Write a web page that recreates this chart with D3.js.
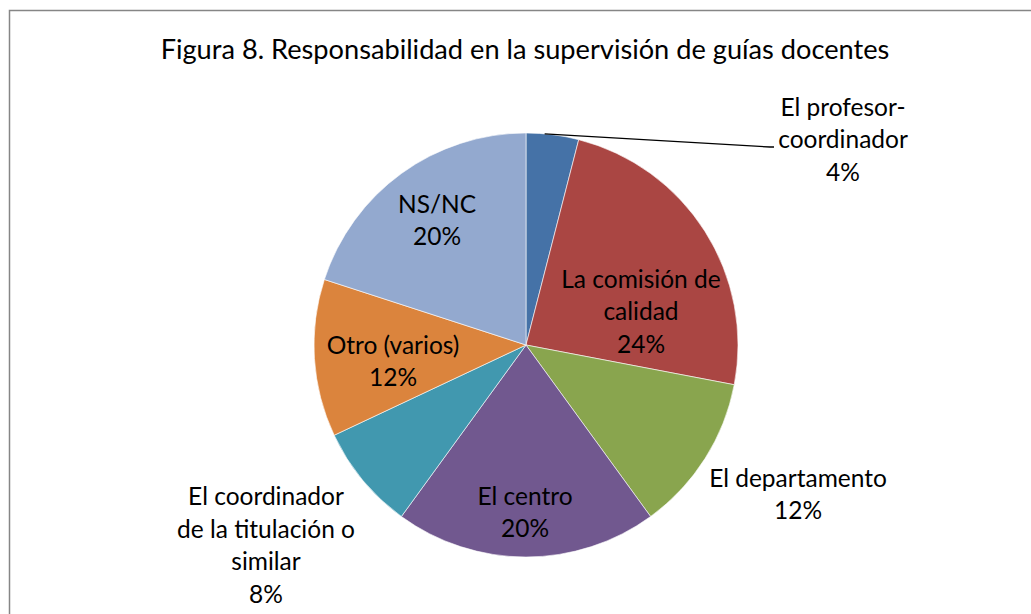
<!DOCTYPE html>
<html>
<head>
<meta charset="utf-8">
<script src="https://cdn.jsdelivr.net/npm/d3@7"></script>
<style>
  html, body { margin: 0; padding: 0; background: #fff; }
  text { font-family: Lato, "Open Sans", sans-serif; fill: #000; }
</style>
</head>
<body>
<div id="main"></div>
<script>
const title = "Figura 8. Responsabilidad en la supervisión de guías docentes";
const categories = [
  ["El profesor-", "coordinador"],
  ["La comisión de", "calidad"],
  ["El departamento"],
  ["El centro"],
  ["El coordinador", "de la titulación o", "similar"],
  ["Otro (varios)"],
  ["NS/NC"]
];
const values = [4, 24, 12, 20, 8, 12, 20];
const colors = ["#4572A7", "#AA4643", "#89A54E", "#71588F", "#4198AF", "#DB843D", "#93A9CF"];

// label placement (center of the text block, relative to pie center)
const labelPos = [
  [317, -205], [115, -33], [272, 150], [-1, 168], [-260, 201], [-133, 17], [-89, -124]
];

const svgWidth = 1031, svgHeight = 614;
const cx = 526, cy = 345, radius = 212;
const lineH = 32.5;

const svg = d3.select("#main")
              .append("svg")
              .attr("width", svgWidth)
              .attr("height", svgHeight);

svg.append("rect")
   .attr("x", 9.5).attr("y", 10.5)
   .attr("width", svgWidth).attr("height", svgHeight)
   .attr("fill", "#fff")
   .attr("stroke", "#868686")
   .attr("stroke-width", 1.5);

svg.append("text")
   .attr("x", 525).attr("y", 59)
   .attr("text-anchor", "middle")
   .style("font-size", "27.2px")
   .text(title);

const pie = d3.pie().sort(null).value(d => d);
const arc = d3.arc().innerRadius(0).outerRadius(radius);
const arcs = pie(values);

const g = svg.append("g").attr("transform", "translate(" + cx + "," + cy + ")");

g.selectAll(".slice")
 .data(arcs)
 .enter()
 .append("path")
 .attr("class", "slice")
 .attr("d", arc)
 .attr("fill", (d, i) => colors[i])
 .attr("stroke", "#fff")
 .attr("stroke-width", 0.6);

// leader line for the small slice
const a0 = arcs[0];
const ang = a0.startAngle + (a0.endAngle - a0.startAngle) * 0.35;
const p0 = [Math.sin(ang) * radius, -Math.cos(ang) * radius];
g.append("polyline")
 .attr("points", [p0, [244, -198], [248, -198]].map(p => p.join(",")).join(" "))
 .attr("fill", "none")
 .attr("stroke", "#000")
 .attr("stroke-width", 1.3);

arcs.forEach((d, i) => {
  const lines = categories[i].concat([values[i] + "%"]);
  const [lx, ly] = labelPos[i];
  const t = g.append("text")
             .attr("text-anchor", "middle")
             .style("font-size", "24.5px");
  const top = ly - (lines.length - 1) * lineH / 2;
  lines.forEach((s, k) => {
    t.append("tspan")
     .attr("x", lx)
     .attr("y", top + k * lineH + 8)
     .text(s);
  });
});
</script>
</body>
</html>
